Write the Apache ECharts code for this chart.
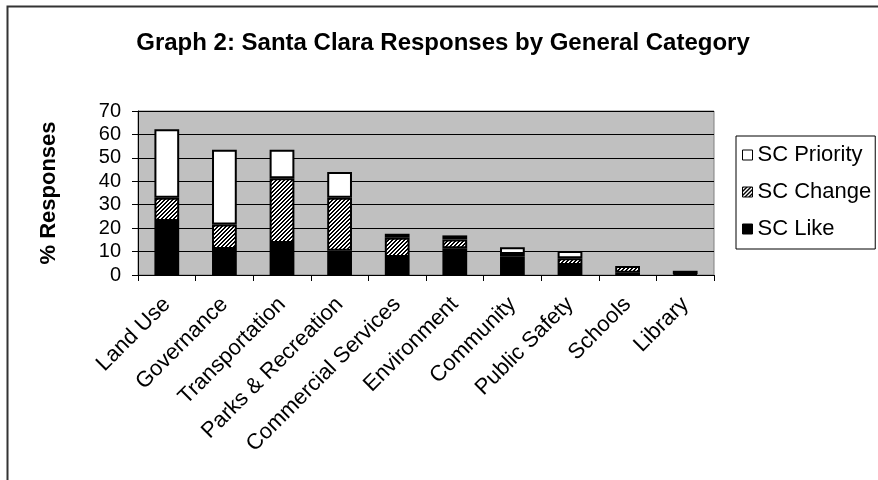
<!DOCTYPE html>
<html>
<head>
<meta charset="utf-8">
<script src="https://cdn.jsdelivr.net/npm/echarts@6/dist/echarts.min.js"></script>
<style>html,body{margin:0;padding:0;background:#fff}#c{width:878px;height:480px}</style>
</head>
<body>
<div id="c"></div>
<script>
const categories = ['Land Use','Governance','Transportation','Parks & Recreation','Commercial Services','Environment','Community','Public Safety','Schools','Library'];
const scLike = [23, 11.1, 13.7, 10.4, 7.7, 11.4, 7.8, 4.3, 1.0, 0.4];
const scChange = [10, 10.5, 27.6, 22.6, 8.2, 3.8, 1.2, 2.8, 2.8, 1.4];
const scPriority = [29.2, 31.9, 12.2, 11, 1.7, 1.7, 2.8, 3.1, null, null];
const yTicks = [0, 10, 20, 30, 40, 50, 60, 70];

const FONT = "'Liberation Sans', Arial, sans-serif";

// hatch pattern
const pc = document.createElement('canvas');
pc.width = 4; pc.height = 4;
const px = pc.getContext('2d');
px.fillStyle = '#ffffff'; px.fillRect(0,0,4,4);
px.fillStyle = '#000000';
for (let i = 0; i < 4; i++) { px.fillRect(i, 3 - i, 1, 1); px.fillRect(i, (4 - i) % 4, 1, 1); }
const hatch = { image: pc, repeat: 'repeat' };

const chart = echarts.init(document.getElementById('c'), null, { renderer: 'canvas' });
const barCommon = { type: 'bar', stack: 'total', barWidth: '43%' };
chart.setOption({
  animation: false,
  backgroundColor: '#fff',
  textStyle: { fontFamily: FONT },
  title: {
    text: 'Graph 2: Santa Clara Responses by General Category',
    left: 438, textAlign: 'center', top: 26,
    textStyle: { fontFamily: FONT, fontWeight: 'bold', fontSize: 24, color: '#000' }
  },
  graphic: [{
    type: 'rect', left: 5, top: 4, z: -1,
    shape: { width: 900, height: 500 },
    style: { fill: 'none', stroke: '#333', lineWidth: 2 }
  }],
  legend: {
    orient: 'vertical', left: 736, top: 136,
    data: ['SC Priority', 'SC Change', 'SC Like'],
    icon: 'rect', itemWidth: 10, itemHeight: 10, itemGap: 15,
    itemStyle: { borderWidth: 1, borderColor: '#000' },
    borderColor: '#000', borderWidth: 1, padding: [8, 4, 9, 6],
    textStyle: { fontFamily: FONT, fontSize: 22, color: '#000' }
  },
  grid: {
    left: 138, right: 164, top: 111, bottom: 205,
    show: true, backgroundColor: '#c0c0c0', borderColor: '#808080', borderWidth: 1
  },
  xAxis: {
    type: 'category', data: categories,
    axisLine: { lineStyle: { color: '#000', width: 1 } },
    axisTick: { show: true, length: 6, lineStyle: { color: '#000' } },
    axisLabel: { rotate: 45, fontFamily: FONT, fontSize: 22, color: '#000', margin: 26, interval: 0 }
  },
  yAxis: {
    type: 'value', min: 0, max: 70, interval: 10,
    name: '% Responses', nameLocation: 'middle', nameGap: 78, nameRotate: 90,
    nameTextStyle: { fontFamily: FONT, fontWeight: 'bold', fontSize: 22, color: '#000' },
    axisLine: { show: true, lineStyle: { color: '#000' } },
    axisTick: { show: true, length: 6, lineStyle: { color: '#000' } },
    axisLabel: { fontFamily: FONT, fontSize: 20, color: '#000', margin: 17,
      formatter: v => yTicks.includes(v) ? String(v) : '' },
    splitLine: { show: true, lineStyle: { color: '#000', width: 1 } }
  },
  series: [
    Object.assign({}, barCommon, { name: 'SC Like', data: scLike, itemStyle: { color: '#000', borderColor: '#000', borderWidth: 2 } }),
    Object.assign({}, barCommon, { name: 'SC Change', data: scChange, itemStyle: { color: hatch, borderColor: '#000', borderWidth: 2 } }),
    Object.assign({}, barCommon, { name: 'SC Priority', data: scPriority, itemStyle: { color: '#fff', borderColor: '#000', borderWidth: 2 } })
  ]
});
</script>
</body>
</html>
